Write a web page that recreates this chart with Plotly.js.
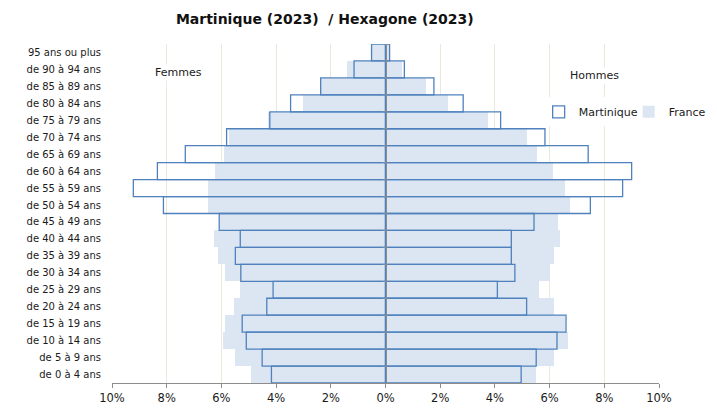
<!DOCTYPE html>
<html>
<head>
<meta charset="utf-8">
<script src="https://cdn.plot.ly/plotly-3.0.1.min.js"></script>
<style>html,body{margin:0;padding:0;background:#fff;}#chart{width:717px;height:417px;}</style>
</head>
<body>
<div id="chart"></div>
<script>
// Age groups, from youngest (bottom) to oldest (top)
const ageGroups = ["de 0 à 4 ans","de 5 à 9 ans","de 10 à 14 ans","de 15 à 19 ans","de 20 à 24 ans","de 25 à 29 ans","de 30 à 34 ans","de 35 à 39 ans","de 40 à 44 ans","de 45 à 49 ans","de 50 à 54 ans","de 55 à 59 ans","de 60 à 64 ans","de 65 à 69 ans","de 70 à 74 ans","de 75 à 79 ans","de 80 à 84 ans","de 85 à 89 ans","de 90 à 94 ans","95 ans ou plus"];

// Share of population (%) per age group
const femmesMartinique = [4.17,4.51,5.09,5.24,4.34,4.11,5.29,5.49,5.31,6.08,8.12,9.22,8.34,7.32,5.81,4.23,3.47,2.37,1.15,0.51];
const femmesFrance     = [4.91,5.52,5.94,5.86,5.53,5.32,5.86,6.13,6.26,6.05,6.50,6.49,6.24,5.92,5.71,4.31,3.01,2.35,1.42,0.50];
const hommesMartinique = [4.96,5.51,6.27,6.60,5.16,4.09,4.73,4.60,4.60,5.43,7.49,8.67,9.00,7.41,5.83,4.21,2.84,1.77,0.69,0.15];
const hommesFrance     = [5.49,6.15,6.66,6.55,6.15,5.62,6.01,6.15,6.37,6.29,6.73,6.56,6.11,5.55,5.17,3.73,2.28,1.49,0.62,0.13];

const xTickValues = [-10,-8,-6,-4,-2,0,2,4,6,8,10];
const xTickLabels = ["10%","8%","6%","4%","2%","0%","2%","4%","6%","8%","10%"];

const neg = a => a.map(v => -v);

const franceStyle = {color:'#dce6f2', line:{width:0}};
const martStyle = {color:'rgba(255,255,255,0)', line:{color:'#4f81bd', width:1.3}};

const traces = [
  {type:'bar', orientation:'h', name:'France', x:neg(femmesFrance), y:ageGroups, marker:franceStyle, width:1, showlegend:false, legendgroup:'fr', hoverinfo:'skip'},
  {type:'bar', orientation:'h', name:'France', x:hommesFrance, y:ageGroups, marker:franceStyle, width:1, legendgroup:'fr', legendrank:2, hoverinfo:'skip'},
  {type:'bar', orientation:'h', name:'Martinique', x:neg(femmesMartinique), y:ageGroups, yaxis:'y2', marker:martStyle, width:1, showlegend:false, legendgroup:'mq', hoverinfo:'skip'},
  {type:'bar', orientation:'h', name:'Martinique', x:hommesMartinique, y:ageGroups, yaxis:'y2', marker:martStyle, width:1, legendgroup:'mq', legendrank:1, hoverinfo:'skip'}
];

const txt = {family:'DejaVu Sans, Verdana, sans-serif', size:11, color:'#1a1a1a'};

const layout = {
  width:717, height:417,
  margin:{l:112, r:58, t:44, b:34, pad:0, autoexpand:false},
  paper_bgcolor:'#ffffff', plot_bgcolor:'#ffffff',
  barmode:'overlay', bargap:0,
  font:txt,
  title:{text:'Martinique (2023) \u00a0/ Hexagone (2023)', font:{family:'DejaVu Sans, Verdana, sans-serif', size:14, color:'#111', weight:'bold'}, xref:'container', x:0.453, xanchor:'center', yref:'container', y:0.955, yanchor:'middle'},
  xaxis:{range:[-10,10], tickvals:xTickValues, ticktext:xTickLabels, showgrid:true, gridcolor:'#ebe8dc', gridwidth:1,
         zeroline:false, showline:true, linecolor:'#8c8c8c', linewidth:1.3, ticks:'outside', ticklen:4, tickcolor:'#8c8c8c',
         tickfont:{family:'DejaVu Sans, Verdana, sans-serif', size:11.5, color:'#1a1a1a'}, fixedrange:true},
  yaxis:{type:'category', categoryorder:'array', categoryarray:ageGroups, range:[-0.5,19.5], showgrid:false, zeroline:false, showline:false, ticks:'', ticklabelstandoff:10,
         tickfont:{family:'DejaVu Sans, Verdana, sans-serif', size:10, color:'#1a1a1a'}, fixedrange:true},
  yaxis2:{type:'category', categoryorder:'array', categoryarray:ageGroups, range:[-0.5,19.5], overlaying:'y', anchor:'free', position:0.5, side:'left',
          showgrid:false, zeroline:false, showline:true, linecolor:'#8c8c8c', linewidth:1.5, ticks:'outside', tickson:'boundaries', ticklen:3, tickcolor:'#8c8c8c',
          showticklabels:false, layer:'above traces', fixedrange:true},
  showlegend:true,
  legend:{orientation:'h', x:0.78, xanchor:'left', y:0.8, yanchor:'middle', bgcolor:'#ffffff', font:{family:'DejaVu Sans, Verdana, sans-serif', size:11, color:'#1a1a1a'}, itemwidth:30, entrywidth:45, entrywidthmode:'pixels', traceorder:'normal', tracegroupgap:0, borderwidth:0},
  annotations:[
    {text:'Femmes', xref:'x', x:-8.5, xanchor:'left', yref:'paper', y:0.915, yanchor:'middle', showarrow:false, bgcolor:'#ffffff', font:txt},
    {text:'Hommes', xref:'x', x:6.66, xanchor:'left', yref:'paper', y:0.908, yanchor:'middle', showarrow:false, bgcolor:'#ffffff', font:txt}
  ]
};

Plotly.newPlot('chart', traces, layout, {displayModeBar:false, staticPlot:true});
</script>
</body>
</html>
